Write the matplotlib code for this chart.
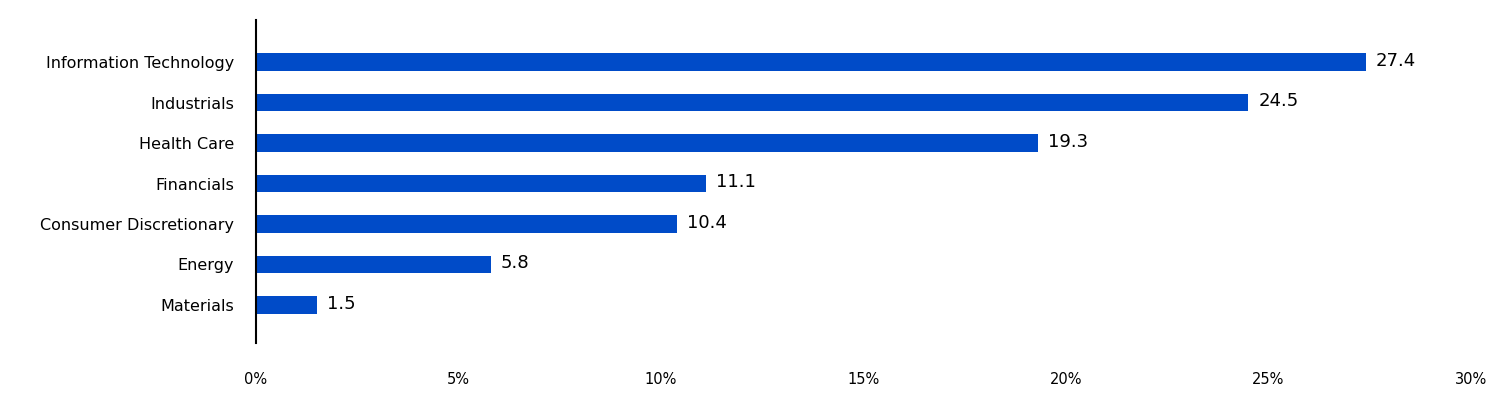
import matplotlib
matplotlib.use("Agg")
import matplotlib.pyplot as plt

categories = ["Information Technology", "Industrials", "Health Care", "Financials",
              "Consumer Discretionary", "Energy", "Materials"]
values = [27.4, 24.5, 19.3, 11.1, 10.4, 5.8, 1.5]
xticks = [0, 5, 10, 15, 20, 25, 30]

plt.rcParams['font.family'] = ['DejaVu Sans']
fig = plt.figure(figsize=(15.12, 4.2), dpi=100)
ax = fig.add_axes([256/1512, 77/420, (1471-256)/1512, (343-20)/420])
n = len(categories)
pos = list(range(n - 1, -1, -1))
ax.barh(pos, values, height=0.44, color="#004BC8")
for p, v in zip(pos, values):
    ax.text(v + 0.25, p + 0.03, f"{v}", va="center", ha="left", fontsize=13, color="black")
ax.set_yticks(pos)
ax.set_yticklabels(categories, fontsize=11.5)
ax.set_ylim(-0.94, n - 1 + 1.04)
ax.set_xlim(0, 30)
ax.set_xticks(xticks)
ax.set_xticklabels([f"{t}%" for t in xticks], fontsize=10.5)
ax.tick_params(axis="y", length=0, pad=16)
ax.tick_params(axis="x", length=0, pad=21)
for s in ["top", "right", "bottom"]:
    ax.spines[s].set_visible(False)
ax.spines["left"].set_linewidth(1.5)
fig.savefig("out.png", dpi=100)
